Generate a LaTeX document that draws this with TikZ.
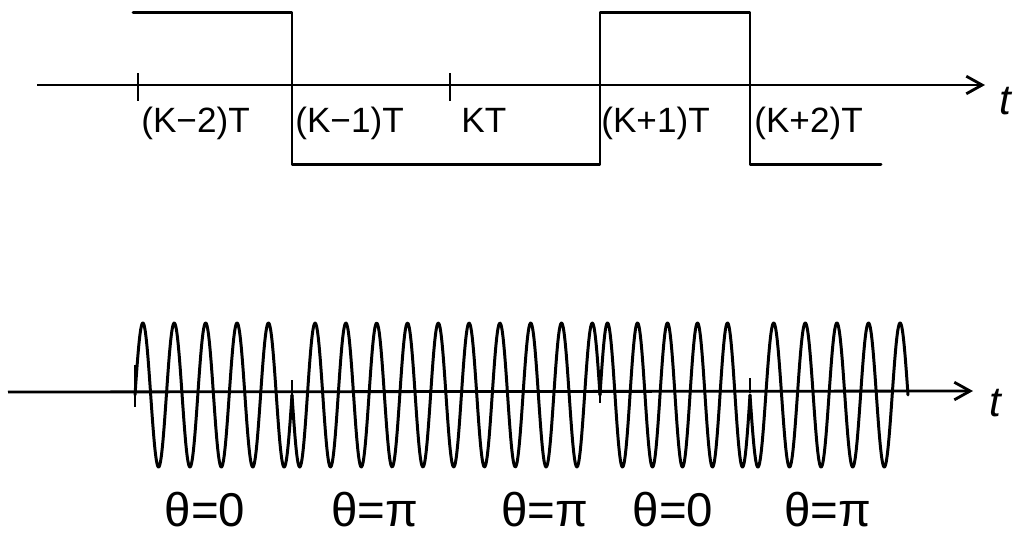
\documentclass[tikz,border=0pt]{standalone}
\usepackage{fontspec}
\setmainfont{Liberation Sans}
\usetikzlibrary{arrows.meta}
\tikzset{
  wave/.style={line width=1.7pt, line join=round, line cap=round},
  axisline/.style={line width=1.6pt, -{Straight Barb[length=9pt,width=10pt,line width=1.6pt]}},
  ticklab/.style={anchor=base west, inner sep=0pt, font=\fontsize{20}{24}\selectfont},
  phaselab/.style={anchor=base, inner sep=0pt, font=\fontsize{27}{30}\selectfont},
  tlab/.style={inner sep=0pt, font=\fontsize{24}{28}\selectfont\itshape}
}
\begin{document}
\begin{tikzpicture}[x=0.02cm, y=-0.02cm]
  \useasboundingbox (0,0) rectangle (1022,539);
  % data signal (square wave)
  \coordinate (ta0) at (37,85);
  \coordinate (ta1) at (985,85);
  \draw[axisline] (ta0) -- (ta1);
  \node[tlab] (tup) at (1005,101) {t};
  \foreach \x in {138,450}{
    \draw[line width=1.6pt] (\x,73) -- (\x,101);
  }
  \draw[wave] (133,12) -- (292,12) -- (292,164) -- (600,164) -- (600,12)
    -- (750,12) -- (750,164) -- (881,164);
  % bit instants
  \node[ticklab] (lkm2) at (141,132) {(K−2)T};
  \node[ticklab] (lkm1) at (295,132) {(K−1)T};
  \node[ticklab] (lk)   at (461,132) {KT};
  \node[ticklab] (lkp1) at (601,132) {(K+1)T};
  \node[ticklab] (lkp2) at (754,132) {(K+2)T};
  % PSK signal
  \coordinate (tb0) at (8,392);
  \coordinate (tb1) at (973,391);
  \draw[axisline] (tb0) -- (tb1);
  \node[tlab] (tdown) at (995,403) {t};
  \foreach \a/\b/\n/\s in {135/292/5/1, 292/600/10/-1, 600/750/5/1, 750/908/5/-1}{
    \pgfmathsetmacro\k{360*\n/(\b-\a)}
    \draw[wave, domain=\a:\b, samples=400, smooth]
      plot (\x, {395-\s*72*sin(\k*(\x-\a))});
  }
  % phase jumps
  \foreach \x/\ya/\yb in {135/365/407, 292/380/395, 600/390/403, 750/378/393}{
    \draw[line width=1.6pt] (\x,\ya) -- (\x,\yb);
  }
  % phases
  \node[phaselab] (th1) at (205,526) {θ=0};
  \node[phaselab] (th2) at (375,526) {θ=π};
  \node[phaselab] (th3) at (545,526) {θ=π};
  \node[phaselab] (th4) at (673,526) {θ=0};
  \node[phaselab] (th5) at (828,526) {θ=π};
\end{tikzpicture}
\end{document}
